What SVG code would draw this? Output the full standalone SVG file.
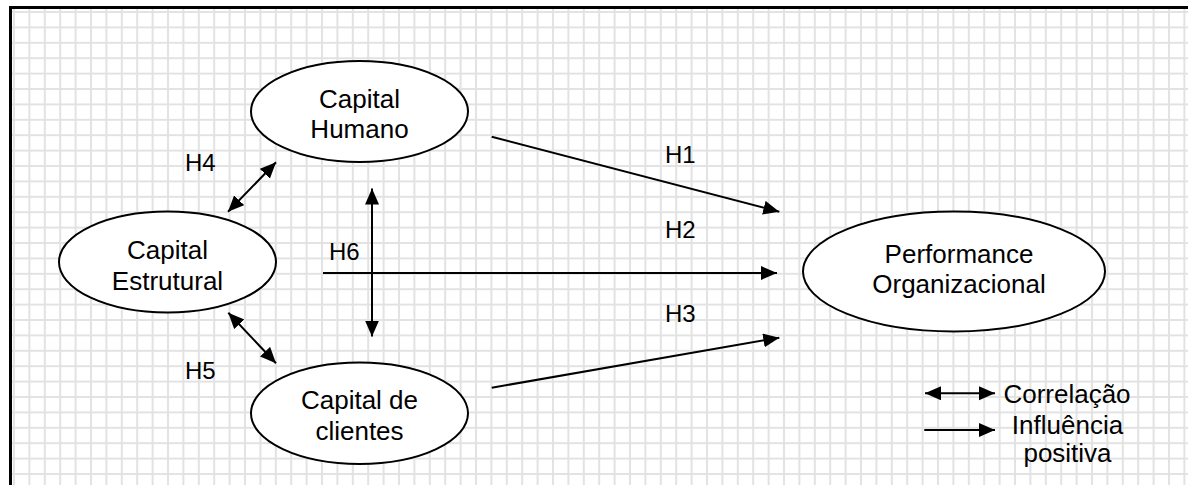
<svg xmlns="http://www.w3.org/2000/svg" width="1188" height="485" viewBox="0 0 1188 485">
<style>
text{font-family:"Liberation Sans",Arial,sans-serif;fill:#000}
.n{font-size:26px;text-anchor:middle}
.h{font-size:24px}
.node ellipse{fill:#fff;stroke:#000;stroke-width:2}
.c line{stroke:#000;stroke-width:2}
.one{marker-end:url(#ah)}
.two{marker-start:url(#ah);marker-end:url(#ah)}
</style>
<defs>
<pattern id="grid" patternUnits="userSpaceOnUse" x="6.3" y="4.3" width="15.4" height="15.4">
<path d="M7.7,0V15.4M0,7.7H15.4" stroke="#e2e2e2" stroke-width="2" fill="none"/>
</pattern>
<marker id="ah" markerUnits="userSpaceOnUse" markerWidth="17" markerHeight="15" refX="16" refY="7" orient="auto-start-reverse">
<path d="M0,0L16,7L0,14z" fill="#000"/>
</marker>
</defs>
<rect width="1188" height="485" fill="#fff"/>
<rect x="12" y="9" width="1176" height="476" fill="url(#grid)"/>
<path d="M10.5,485V7.5H1188" fill="none" stroke="#000" stroke-width="3"/>
<g class="c" id="connectors">
<line class="one" x1="491.7" y1="136.7" x2="779.3" y2="211.7"/>
<line class="one" x1="323" y1="273" x2="777" y2="273"/>
<line class="one" x1="491.7" y1="387.7" x2="779.3" y2="337.7"/>
<line class="two" x1="372" y1="188.5" x2="372" y2="336.5"/>
<line class="two" x1="228" y1="211.7" x2="276" y2="162.3"/>
<line class="two" x1="228.3" y1="312.7" x2="276" y2="363.3"/>
<line class="two" x1="925" y1="393.3" x2="995" y2="393.3"/>
<line class="one" x1="924.3" y1="430" x2="995" y2="430"/>
</g>
<g id="labels">
<text class="h" x="665" y="163.3">H1</text>
<text class="h" x="665" y="237.7">H2</text>
<text class="h" x="665" y="321.7">H3</text>
<text class="h" x="185" y="170.7">H4</text>
<text class="h" x="185" y="379.3">H5</text>
<text class="h" x="329" y="260">H6</text>
</g>
<g class="node" id="capital-humano">
<ellipse cx="359.5" cy="111.5" rx="108.5" ry="50.5"/>
<text class="n" x="359.5" y="107.7">Capital</text>
<text class="n" x="359.5" y="138.3">Humano</text>
</g>
<g class="node" id="capital-estrutural">
<ellipse cx="167.5" cy="262" rx="108.5" ry="50.5"/>
<text class="n" x="167.5" y="259">Capital</text>
<text class="n" x="167.5" y="290">Estrutural</text>
</g>
<g class="node" id="capital-clientes">
<ellipse cx="359.5" cy="413.3" rx="108.5" ry="50.7"/>
<text class="n" x="359.5" y="409.3">Capital de</text>
<text class="n" x="359.5" y="440">clientes</text>
</g>
<g class="node" id="performance">
<ellipse cx="954" cy="271.5" rx="151" ry="60"/>
<text class="n" x="959" y="262.7">Performance</text>
<text class="n" x="959" y="292.7">Organizacional</text>
</g>
<g id="legend">
<text class="n" x="1067" y="402.7">Correlação</text>
<text class="n" x="1067.5" y="434.3">Influência</text>
<text class="n" x="1067.5" y="461.7">positiva</text>
</g>
</svg>
